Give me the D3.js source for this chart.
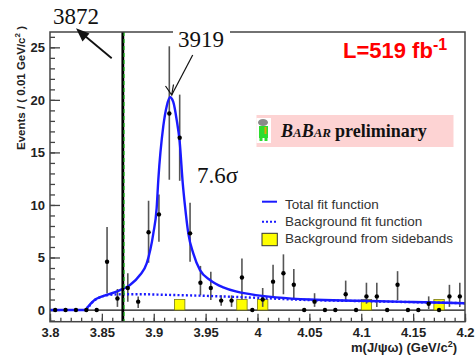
<!DOCTYPE html>
<html>
<head>
<meta charset="utf-8">
<script src="https://cdn.jsdelivr.net/npm/d3@7/dist/d3.min.js"></script>
<style>
  body { margin: 0; background: #fff; }
  svg { display: block; }
</style>
</head>
<body>
<div id="chart"></div>
<script>
// Data (bins of 0.01 GeV/c^2)
var binCenters = [3.805, 3.815, 3.825, 3.835, 3.845, 3.855, 3.865, 3.875, 3.885, 3.895,
                  3.905, 3.915, 3.925, 3.935, 3.945, 3.955, 3.965, 3.975, 3.985, 3.995,
                  4.005, 4.015, 4.025, 4.035, 4.045, 4.055, 4.065, 4.075, 4.085, 4.095,
                  4.105, 4.115, 4.125, 4.135, 4.145, 4.155, 4.165, 4.175, 4.185, 4.195];
var events = [0, 0, 0, 0, 0, 4.6, 1.1, 2.1, 0.8, 7.4,
              9.1, 18.7, 16.4, 7.3, 2.6, 2.1, 0.9, 0.9, 3.1, 0,
              1.0, 2.7, 3.5, 2.4, 0, 0.8, 0, 0, 1.5, 0,
              1.3, 1.3, 0, 2.4, 0, 0, 0.6, 0, 1.3, 1.3];
var errLow = [null, null, null, null, null, 1.6, 0.3, 0.8, 0.2, 4.5,
              6.5, 12.4, 12.3, 4.6, 1.4, 0.95, 0.4, 0.3, 1.0, null,
              0.3, 1.3, 1.5, 1.0, null, 0.3, null, null, 0.8, null,
              0.6, 0.3, null, 0.95, null, null, 0.1, null, 0.3, 0.3];
var errHigh = [null, null, null, null, null, 7.9, 2.0, 3.5, 1.3, 10.4,
               11.0, 25.1, 20.5, 10.2, 4.2, 3.65, 1.4, 1.4, 4.9, null,
               2.1, 4.3, 5.3, 3.9, null, 1.6, null, null, 2.8, null,
               2.6, 2.6, null, 3.7, null, null, 1.3, null, 2.4, 2.6];

// Background from sidebands
var sidebandBins = [3.925, 3.985, 4.005, 4.105, 4.175];
var sidebandEvents = [1.0, 1.0, 1.0, 1.0, 1.0];

// Total fit function
var fitMass = [3.800, 3.8335, 3.8365, 3.8395, 3.8435, 3.849, 3.8546, 3.8675, 3.8771, 3.8867,
               3.8932, 3.8996, 3.9028, 3.9044, 3.9092, 3.9125, 3.9157, 3.9188, 3.9221, 3.925,
               3.928, 3.930, 3.9333, 3.9381, 3.9446, 3.9542, 3.967, 3.980, 3.9928, 4.05,
               4.10, 4.15, 4.20];
var fitTotal = [0, 0, 0.3, 0.64, 1.0, 1.25, 1.43, 1.9, 2.38, 3.33,
                4.44, 7.3, 9.7, 12.4, 17.5, 19.4, 20.25, 19.8, 18.1, 16.0,
                12.0, 10.0, 7.3, 5.4, 3.8, 2.86, 2.16, 1.75, 1.52, 1.0,
                0.88, 0.76, 0.65];

// Background fit function
var bkgMass = [3.8355, 3.8395, 3.844, 3.849, 3.856, 3.870, 3.890, 3.910, 3.950, 3.990,
               4.050, 4.100, 4.150, 4.200];
var bkgValue = [0, 0.6, 1.0, 1.25, 1.43, 1.5, 1.5, 1.45, 1.35, 1.2,
                0.95, 0.85, 0.75, 0.65];

var x3872 = 3.8702;
var xTicks = [3.8, 3.85, 3.9, 3.95, 4.0, 4.05, 4.1, 4.15, 4.2];
var yTicks = [0, 5, 10, 15, 20, 25];
var legendLabels = ["Total fit function", "Background fit function", "Background from sidebands"];

drawChart();

function drawChart() {
  var svgWidth = 475;
  var svgHeight = 355;
  var sans = "'Liberation Sans', Arial, sans-serif";
  var serif = "'Liberation Serif', 'Times New Roman', serif";

  var svg = d3.select("#chart")
    .append("svg")
    .attr("width", svgWidth)
    .attr("height", svgHeight);

  // frame box
  var frame = { left: 50, right: 465, top: 32, bottom: 321.7 };

  var x = d3.scaleLinear().domain([3.8, 4.2]).range([frame.left, frame.right]);
  var y = d3.scaleLinear().domain([-1.11, 26.46]).range([frame.bottom, frame.top]);

  // y axis: major + minor ticks pointing inward
  var yMinor = d3.axisLeft(y).tickValues(d3.range(-1, 27)).tickSize(-5).tickFormat("");
  var yMajor = d3.axisLeft(y).tickValues(yTicks).tickSize(-10).tickPadding(5);

  var yg1 = svg.append("g").attr("transform", `translate(${frame.left},0)`).call(yMinor);
  var yg2 = svg.append("g").attr("transform", `translate(${frame.left},0)`).call(yMajor);
  [yg1, yg2].forEach(function (g) {
    g.select(".domain").remove();
    g.selectAll("line").attr("stroke", "#444").attr("stroke-width", 1.3);
  });
  yg2.selectAll("text")
    .attr("font-family", sans)
    .attr("font-size", "13px")
    .attr("font-weight", "bold")
    .attr("fill", "#222");

  // x axis
  var xMinor = d3.axisBottom(x).tickValues(x.ticks(40)).tickSize(-4).tickFormat("");
  var xMajor = d3.axisBottom(x).tickValues(xTicks).tickSize(-8).tickPadding(6.5)
    .tickFormat(d => +d.toFixed(2));

  var xg1 = svg.append("g").attr("transform", `translate(0,${frame.bottom})`).call(xMinor);
  var xg2 = svg.append("g").attr("transform", `translate(0,${frame.bottom})`).call(xMajor);
  [xg1, xg2].forEach(function (g) {
    g.select(".domain").remove();
    g.selectAll("line").attr("stroke", "#444").attr("stroke-width", 1.3);
  });
  xg2.selectAll("text")
    .attr("font-family", sans)
    .attr("font-size", "13px")
    .attr("font-weight", "bold")
    .attr("fill", "#222");

  // zero line
  svg.append("line")
    .attr("x1", frame.left).attr("x2", frame.right)
    .attr("y1", y(0)).attr("y2", y(0))
    .attr("stroke", "#111").attr("stroke-width", 1.2);

  // sideband boxes
  svg.append("g")
    .selectAll("rect")
    .data(sidebandBins)
    .enter()
    .append("rect")
    .attr("x", d => x(d - 0.005))
    .attr("width", d => x(d + 0.005) - x(d - 0.005))
    .attr("y", (d, i) => y(sidebandEvents[i]))
    .attr("height", (d, i) => y(0) - y(sidebandEvents[i]))
    .attr("fill", "#ffff00")
    .attr("stroke", "#7a7a10")
    .attr("stroke-width", 0.8);

  // error bars
  var errGroup = svg.append("g");
  binCenters.forEach(function (m, i) {
    if (errLow[i] === null) return;
    errGroup.append("line")
      .attr("x1", x(m)).attr("x2", x(m))
      .attr("y1", y(errLow[i])).attr("y2", y(errHigh[i]))
      .attr("stroke", "#555")
      .attr("stroke-width", 1.6);
  });

  // background fit (dotted)
  var bkgLine = d3.line()
    .x((d, i) => x(bkgMass[i]))
    .y(d => y(d))
    .curve(d3.curveMonotoneX);

  svg.append("path")
    .attr("d", bkgLine(bkgValue))
    .attr("fill", "none")
    .attr("stroke", "#1a1aff")
    .attr("stroke-width", 2.4)
    .attr("stroke-dasharray", "2,2.2");

  // total fit
  var fitLine = d3.line()
    .x((d, i) => x(fitMass[i]))
    .y(d => y(d))
    .curve(d3.curveMonotoneX);

  svg.append("path")
    .attr("d", fitLine(fitTotal))
    .attr("fill", "none")
    .attr("stroke", "#1a1aff")
    .attr("stroke-width", 2.4);

  // data points
  svg.append("g")
    .selectAll("circle")
    .data(events)
    .enter()
    .append("circle")
    .attr("cx", (d, i) => x(binCenters[i]))
    .attr("cy", d => y(d))
    .attr("r", 2.2)
    .attr("fill", "#000");

  // X(3872) marker line
  svg.append("line")
    .attr("x1", x(x3872)).attr("x2", x(x3872))
    .attr("y1", frame.top).attr("y2", frame.bottom)
    .attr("stroke", "#000").attr("stroke-width", 2.8);
  svg.append("line")
    .attr("x1", x(x3872) + 1.3).attr("x2", x(x3872) + 1.3)
    .attr("y1", frame.top).attr("y2", frame.bottom)
    .attr("stroke", "#3c3").attr("stroke-width", 1.2)
    .attr("stroke-dasharray", "4,3");

  // frame
  svg.append("rect")
    .attr("x", frame.left).attr("y", frame.top)
    .attr("width", frame.right - frame.left).attr("height", frame.bottom - frame.top)
    .attr("fill", "none")
    .attr("stroke", "#444")
    .attr("stroke-width", 1.5);

  // axis titles
  var yTitle = svg.append("text")
    .attr("transform", "translate(25,88) rotate(-90)")
    .attr("text-anchor", "middle")
    .attr("font-family", sans)
    .attr("font-size", "11.5px")
    .attr("font-weight", "bold")
    .attr("fill", "#222");
  yTitle.append("tspan").text("Events / ( 0.01 GeV/c");
  yTitle.append("tspan").attr("dy", -5).attr("font-size", "8px").text("2");
  yTitle.append("tspan").attr("dy", 5).text(" )");

  var xTitle = svg.append("text")
    .attr("x", 457).attr("y", 351.5)
    .attr("text-anchor", "end")
    .attr("font-family", sans)
    .attr("font-size", "13px")
    .attr("font-weight", "bold")
    .attr("fill", "#222");
  xTitle.append("tspan").text("m(J/ψω) (GeV/c");
  xTitle.append("tspan").attr("dy", -5).attr("font-size", "9px").text("2");
  xTitle.append("tspan").attr("dy", 5).text(")");

  // luminosity
  var lumi = svg.append("text")
    .attr("x", 343).attr("y", 58)
    .attr("font-family", sans)
    .attr("font-weight", "bold")
    .attr("font-size", "22px")
    .attr("fill", "#f00");
  lumi.append("tspan").text("L=519 fb");
  lumi.append("tspan").attr("dy", -8).attr("font-size", "16px").text("-1");

  // BaBar preliminary box
  svg.append("rect")
    .attr("x", 256.5).attr("y", 115)
    .attr("width", 197).attr("height", 32)
    .attr("fill", "#fdd3d3");
  svg.append("rect")
    .attr("x", 256.5).attr("y", 118)
    .attr("width", 14.5).attr("height", 25)
    .attr("fill", "#fff");
  // small logo figure
  svg.append("ellipse").attr("cx", 263).attr("cy", 122.5).attr("rx", 5).attr("ry", 3.5).attr("fill", "#8a8a8a");
  svg.append("rect").attr("x", 259).attr("y", 126).attr("width", 9).attr("height", 12).attr("fill", "#2edc2e");
  svg.append("rect").attr("x", 264.5).attr("y", 127).attr("width", 2).attr("height", 7).attr("fill", "#e0a800");
  svg.append("rect").attr("x", 259.5).attr("y", 138).attr("width", 3).attr("height", 3).attr("fill", "#2edc2e");
  svg.append("rect").attr("x", 264.5).attr("y", 138).attr("width", 3).attr("height", 3).attr("fill", "#2edc2e");

  var babar = svg.append("text")
    .attr("x", 281).attr("y", 137)
    .attr("font-family", serif)
    .attr("font-weight", "bold")
    .attr("fill", "#111");
  babar.append("tspan").attr("font-style", "italic").attr("font-size", "18px").text("B");
  babar.append("tspan").attr("font-style", "italic").attr("font-size", "13px").text("A");
  babar.append("tspan").attr("font-style", "italic").attr("font-size", "18px").text("B");
  babar.append("tspan").attr("font-style", "italic").attr("font-size", "13px").text("AR");
  babar.append("tspan").attr("x", 335).attr("font-size", "18px").text("preliminary");

  // 7.6 sigma
  svg.append("text")
    .attr("x", 197).attr("y", 182.7)
    .attr("font-family", serif)
    .attr("font-size", "23px")
    .attr("fill", "#111")
    .text("7.6σ");

  // legend
  var legend = svg.append("g");
  legend.append("line")
    .attr("x1", 262).attr("x2", 277).attr("y1", 201.7).attr("y2", 201.7)
    .attr("stroke", "#1a1aff").attr("stroke-width", 2);
  legend.append("line")
    .attr("x1", 262).attr("x2", 277).attr("y1", 221.7).attr("y2", 221.7)
    .attr("stroke", "#1a1aff").attr("stroke-width", 2)
    .attr("stroke-dasharray", "2,2");
  legend.append("rect")
    .attr("x", 262).attr("y", 233.3).attr("width", 15.3).attr("height", 12.4)
    .attr("fill", "#ffff00").attr("stroke", "#333").attr("stroke-width", 1);
  legend.selectAll("text")
    .data(legendLabels)
    .enter()
    .append("text")
    .attr("x", 285)
    .attr("y", (d, i) => [209.3, 225.7, 242.7][i])
    .attr("font-family", sans)
    .attr("font-size", "13.5px")
    .attr("fill", "#333")
    .text(d => d);

  // 3919 annotation: white patch breaking the top frame
  svg.append("rect")
    .attr("x", 173).attr("y", 26).attr("width", 57).attr("height", 12)
    .attr("fill", "#fff");
  svg.append("text")
    .attr("x", 178).attr("y", 46.7)
    .attr("font-family", serif)
    .attr("font-size", "23px")
    .attr("fill", "#111")
    .text("3919");

  // open arrow to the peak
  svg.append("line")
    .attr("x1", 192.7).attr("y1", 55).attr("x2", 171.7).attr("y2", 95)
    .attr("stroke", "#111").attr("stroke-width", 1.2);
  svg.append("path")
    .attr("d", "M165.5,86 L171.7,95 L173.5,84.5")
    .attr("fill", "none").attr("stroke", "#111").attr("stroke-width", 1.2);

  // 3872 annotation with filled arrow
  svg.append("text")
    .attr("x", 53).attr("y", 24)
    .attr("font-family", serif)
    .attr("font-size", "23px")
    .attr("fill", "#111")
    .text("3872");
  svg.append("line")
    .attr("x1", 111.7).attr("y1", 58.3).attr("x2", 82).attr("y2", 33.5)
    .attr("stroke", "#111").attr("stroke-width", 1.8);
  svg.append("path")
    .attr("d", "M76,28.3 L89.5,33.5 L82.5,41.5 Z")
    .attr("fill", "#111");
}
</script>
</body>
</html>
